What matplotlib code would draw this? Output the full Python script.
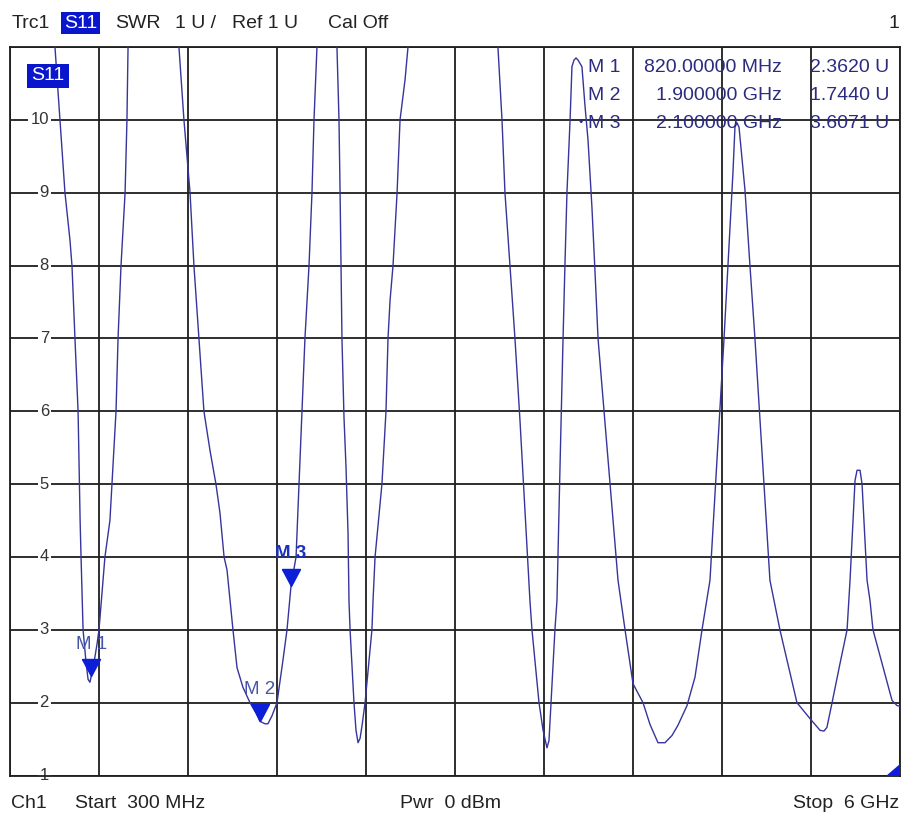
import numpy as np
import matplotlib.pyplot as plt
from matplotlib.patches import Polygon

plt.rcParams['font.family'] = ['Liberation Sans', 'DejaVu Sans']

# S11 trace, SWR against frequency (MHz)
freq_mhz = [300, 575, 588, 620, 652, 684, 697, 716, 736, 745, 749, 755, 768, 787, 800, 812,
            820, 838, 857, 870, 908, 940, 953, 979, 992, 1011, 1037, 1049, 1056, 1062, 1216,
            1370, 1382, 1414, 1453, 1478, 1510, 1542, 1581, 1619, 1645, 1671, 1690, 1728, 1754,
            1792, 1837, 1876, 1900, 1933, 1952, 1978, 2010, 2048, 2074, 2100, 2132, 2151, 2170,
            2189, 2215, 2234, 2247, 2266, 2273, 2330,
            2388, 2394, 2407, 2414, 2420, 2426, 2439, 2452, 2465, 2471, 2478, 2503, 2516, 2529,
            2542, 2555, 2574, 2618, 2625, 2638, 2682, 2708, 2721, 2734, 2753, 2779, 2798, 2830,
            2849, 2855, 3137,
            3419, 3425, 3451, 3470, 3502, 3534, 3566, 3598, 3630, 3643, 3688, 3714, 3739, 3752,
            3765, 3790, 3803, 3822, 3842, 3854, 3867, 3887, 3899, 3912, 3925, 3938, 3963, 3983,
            4002, 4027, 4047, 4066, 4194, 4239, 4290, 4354, 4399, 4450, 4495, 4540, 4578, 4636,
            4687, 4732, 4783, 4873, 4898, 4930, 4943, 4956, 4969, 5007, 5039, 5071, 5167, 5231,
            5340, 5424, 5488, 5513, 5532, 5565, 5616, 5661, 5680, 5699, 5712, 5725, 5744, 5757,
            5776, 5789, 5808, 5827, 5885, 5949, 5981, 6000]
swr = [14.0, 11.03, 11.0, 10.0, 9.0, 8.35, 8.0, 7.0, 6.0, 5.0, 4.5, 4.0, 3.0, 2.55, 2.32, 2.28,
       2.36, 2.55, 2.8, 3.0, 4.0, 4.5, 5.0, 6.0, 7.0, 8.0, 9.0, 10.0, 11.0, 11.2, 16.0,
       11.1, 11.0, 10.0, 9.0, 8.0, 7.0, 6.0, 5.46, 5.0, 4.6, 4.0, 3.82, 3.0, 2.48,
       2.21, 2.0, 1.86, 1.744, 1.71, 1.71, 1.82, 2.0, 2.58, 3.0, 3.607, 4.0, 5.0, 6.0,
       7.0, 8.0, 9.0, 10.0, 11.0, 11.1, 15.0,
       11.1, 11.0, 10.0, 9.0, 8.0, 7.0, 5.92, 5.23, 4.32, 3.4, 3.0, 2.0, 1.62, 1.45,
       1.51, 1.69, 2.0, 3.0, 3.4, 4.0, 5.0, 6.0, 7.0, 7.52, 8.0, 9.0, 10.0, 10.55,
       11.0, 11.1, 18.0,
       11.1, 11.0, 10.0, 9.0, 8.0, 7.0, 5.88, 4.64, 3.4, 3.0, 2.0, 1.62, 1.38, 1.48,
       2.0, 3.0, 3.4, 5.19, 7.0, 8.0, 9.0, 10.0, 10.73, 10.82, 10.85, 10.82, 10.73, 10.18,
       9.72, 8.8, 7.9, 7.0, 3.68, 3.0, 2.26, 2.0, 1.7, 1.45, 1.45, 1.55, 1.69, 1.96,
       2.35, 3.0, 3.68, 7.0, 8.0, 9.27, 9.9, 9.96, 9.9, 9.04, 8.0, 7.0, 3.68, 3.0,
       2.0, 1.78, 1.62, 1.61, 1.66, 2.0, 2.54, 3.0, 3.68, 4.5, 5.05, 5.19, 5.19, 5.0,
       4.2, 3.68, 3.4, 3.0, 2.54, 2.03, 1.96, 1.95]

marker_names = ['M 1', 'M 2', 'M 3']
marker_freq = [820, 1900, 2100]
marker_swr = [2.362, 1.744, 3.6071]
marker_freq_text = ['820.00000 MHz', '1.900000 GHz', '2.100000 GHz']
marker_val_text = ['2.3620 U', '1.7440 U', '3.6071 U']

y_ticks = list(range(1, 12))
y_labels = [str(v) for v in range(1, 11)]
x_ticks = np.linspace(300, 6000, 11)

W, H = 902, 816
FS = 14
fig = plt.figure(figsize=(W / 100, H / 100), dpi=100)
ax = fig.add_axes([10 / W, 1 - 775.5 / H, 890 / W, 728.5 / H])
ax.set_xlim(300, 6000)
ax.set_ylim(1, 11)
ax.set_xticks(x_ticks)
ax.set_yticks(y_ticks)
ax.tick_params(length=0, labelbottom=False, labelleft=False)
ax.grid(True, color='#1e1e1e', linewidth=1.3)
ax.set_axisbelow(True)
for sp in ax.spines.values():
    sp.set_color('#1e1e1e')
    sp.set_linewidth(1.3)

ax.plot(freq_mhz, swr, color='#35359a', linewidth=1.0, zorder=3)

# y labels sit on the grid lines, inside the frame
for i, lab in enumerate(y_labels):
    ax.text(0.0438, i + 1, lab, transform=ax.get_yaxis_transform(), ha='right', va='center',
            fontsize=12, color='#333333', zorder=2.5,
            bbox=dict(facecolor='white', edgecolor='none', pad=1.5))

# markers: triangle with tip on the trace
tri = [(-0.53, 1), (0.53, 1), (0, 0), (-0.53, 1)]
ax.plot(marker_freq, marker_swr, linestyle='none', marker=tri, markersize=24.5,
        color='#0c1ed8', zorder=4)
for i, name in enumerate(marker_names):
    active = i == 2
    ax.annotate(name, (marker_freq[i], marker_swr[i]), xytext=(0, 23), textcoords='offset points',
                ha='center', va='center', fontsize=13.5, zorder=5,
                color='#1b2fc0' if active else '#4656a6',
                fontweight='bold' if active else 'normal')

# S11 tag inside plot
fig.text(48 / W, 1 - 76 / H, 'S11', ha='center', va='center', fontsize=FS, color='white',
         bbox=dict(boxstyle='square,pad=0.2', facecolor='#0a16cc', edgecolor='none'))

# marker table
row_y = [67, 95, 123]
for i in range(3):
    y = 1 - row_y[i] / H
    fig.text(588 / W, y, marker_names[i], ha='left', va='center', fontsize=FS, color='#2b2b80')
    fig.text(782 / W, y, marker_freq_text[i], ha='right', va='center', fontsize=FS, color='#2b2b80')
    fig.text(889 / W, y, marker_val_text[i], ha='right', va='center', fontsize=FS, color='#2b2b80')
fig.text(581 / W, 1 - row_y[2] / H, '•', ha='center', va='center', fontsize=9, color='#2b2b80')

# header line
hdr_y = 1 - 23 / H
fig.text(12 / W, hdr_y, 'Trc1', ha='left', va='center', fontsize=FS, color='#222222')
fig.text(64 / W, hdr_y, 'S11', ha='left', va='center', fontsize=FS, color='white',
         bbox=dict(boxstyle='square,pad=0.15', facecolor='#0a16cc', edgecolor='none'))
fig.text(115 / W, hdr_y, 'SWR', ha='left', va='center', fontsize=FS, color='#222222')
fig.text(175 / W, hdr_y, '1 U /', ha='left', va='center', fontsize=FS, color='#222222')
fig.text(232 / W, hdr_y, 'Ref 1 U', ha='left', va='center', fontsize=FS, color='#222222')
fig.text(328 / W, hdr_y, 'Cal Off', ha='left', va='center', fontsize=FS, color='#222222')
fig.text(899 / W, hdr_y, '1', ha='right', va='center', fontsize=FS, color='#222222')

# footer line
ftr_y = 1 - 803 / H
fig.text(11 / W, ftr_y, 'Ch1', ha='left', va='center', fontsize=FS, color='#222222')
fig.text(75 / W, ftr_y, 'Start  300 MHz', ha='left', va='center', fontsize=FS, color='#222222')
fig.text(400 / W, ftr_y, 'Pwr  0 dBm', ha='left', va='center', fontsize=FS, color='#222222')
fig.text(899 / W, ftr_y, 'Stop  6 GHz', ha='right', va='center', fontsize=FS, color='#222222')

# out-of-range marker flag in the lower right corner
ax.add_patch(Polygon([(0.984, 0), (1, 0), (1, 0.016)], closed=True, transform=ax.transAxes,
                     facecolor='#0c1ed8', edgecolor='none', clip_on=False, zorder=5))

fig.savefig('out.png', dpi=100)
